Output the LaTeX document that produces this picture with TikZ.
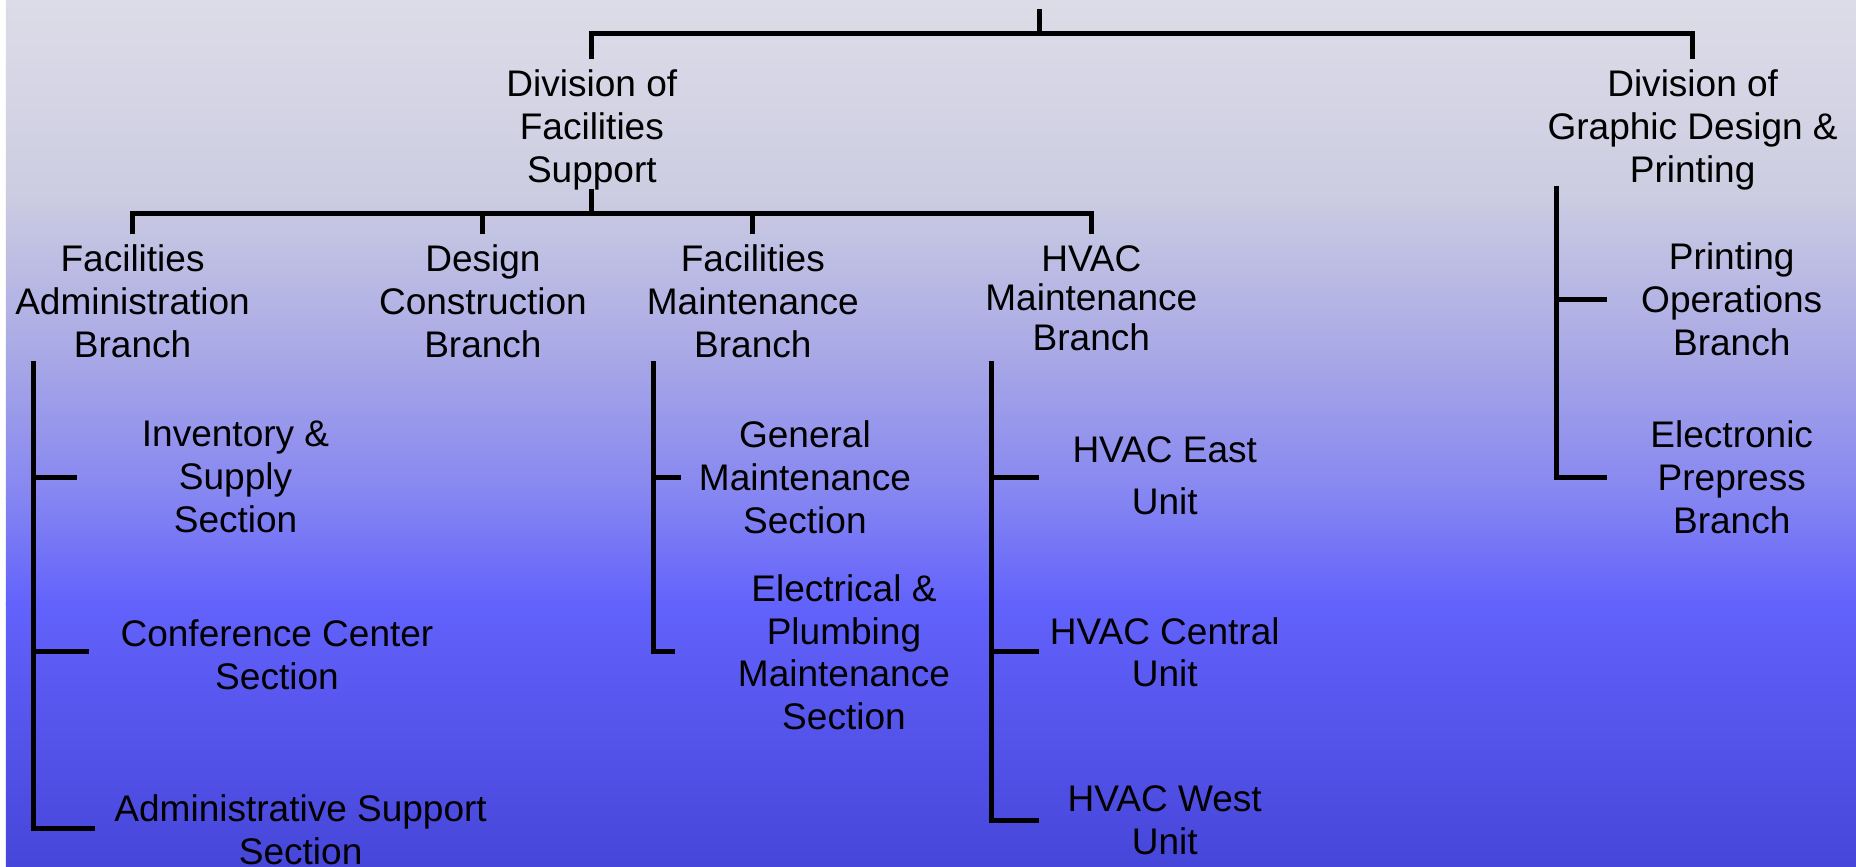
\documentclass[tikz,border=0pt]{standalone}
\usepackage{fontspec}
\setmainfont{Liberation Sans}
\usepackage{tikz}
\usetikzlibrary{calc,positioning}

\definecolor{bgA}{HTML}{DCDCE8}
\definecolor{bgB}{HTML}{CDCDE2}
\definecolor{bgC}{HTML}{A8A8E6}
\definecolor{bgD}{HTML}{8585F2}
\definecolor{bgE}{HTML}{6262FC}
\definecolor{bgF}{HTML}{4646DA}

\newcommand{\orgfont}{\fontsize{17.8}{20.6}\selectfont}

\begin{document}
\begin{tikzpicture}[x=0.02cm, y=-0.02cm,
    every node/.style={align=center, font=\orgfont, inner sep=5pt},
    orgline/.style={line width=2.4pt}]
    \useasboundingbox (0,0) rectangle (1568,732);

    % background
    \fill[white] (0,0) rectangle (1568,732);
    \shade[top color=bgA, bottom color=bgB] (5,0) rectangle (1568,161);
    \shade[top color=bgB, bottom color=bgC] (5,160) rectangle (1568,301);
    \shade[top color=bgC, bottom color=bgD] (5,300) rectangle (1568,421);
    \shade[top color=bgD, bottom color=bgE] (5,420) rectangle (1568,511);
    \shade[top color=bgE, bottom color=bgF] (5,510) rectangle (1568,732);

    % divisions
    \node[anchor=north] (dfs) at (500,50) {Division of\\Facilities\\Support};
    \node[anchor=north] (gdp) at (1430,50) {Division of\\Graphic Design \&\\Printing};

    % branches
    \node[anchor=north] (fab) at (112,198) {Facilities\\Administration\\Branch};
    \node[anchor=north] (dcb) at (408,198) {Design\\Construction\\Branch};
    \node[anchor=north] (fmb) at (636,198) {Facilities\\Maintenance\\Branch};
    \node[anchor=north] (hvb) at (922,198) {HVAC\\[-1.5pt]Maintenance\\[-1.5pt]Branch};
    \node (pob) at (1463,253) {Printing\\Operations\\Branch};
    \node (epb) at (1463,403) {Electronic\\Prepress\\Branch};

    % sections and units
    \node (inv) at (199,403) {Inventory \&\\Supply\\Section};
    \node (conf) at (234,553) {Conference Center\\Section};
    \node (adm) at (254,701) {Administrative Support\\Section};
    \node (gms) at (680,403) {General\\Maintenance\\Section};
    \node (eps) at (713,551) {Electrical \&\\Plumbing\\Maintenance\\Section};
    \node (hve) at (984,402) {HVAC East\\[4.8pt]Unit};
    \node (hvc) at (984,551) {HVAC Central\\Unit};
    \node (hvw) at (984,693) {HVAC West\\Unit};

    % top level
    \coordinate (root) at (878,8);
    \coordinate (hub) at (878,28);
    \draw[orgline] (root) -- (hub);
    \draw[orgline] (dfs.north) |- (hub) -| (gdp.north);

    % facilities support
    \coordinate (fs-hub) at (500,180);
    \draw[orgline, shorten <=-6pt] (dfs.south) -- (fs-hub);
    \draw[orgline] (fab.north) |- (fs-hub) -| (hvb.north);
    \draw[orgline] (dcb.north) -- (dcb.north |- fs-hub);
    \draw[orgline] (fmb.north) -- (fmb.north |- fs-hub);

    % administration branch
    \coordinate (fab-spine) at (28,305);
    \coordinate (inv-tick) at (65,403);
    \coordinate (conf-tick) at (75,550);
    \coordinate (adm-tick) at (80,700);
    \draw[orgline] (fab-spine) |- (adm-tick);
    \draw[orgline] (fab-spine |- inv-tick) -- (inv-tick);
    \draw[orgline] (fab-spine |- conf-tick) -- (conf-tick);

    % maintenance branch
    \coordinate (fmb-spine) at (552,305);
    \coordinate (gms-tick) at (575,403);
    \coordinate (eps-tick) at (570,550);
    \draw[orgline] (fmb-spine) |- (eps-tick);
    \draw[orgline] (fmb-spine |- gms-tick) -- (gms-tick);

    % hvac branch
    \coordinate (hvb-spine) at (838,305);
    \coordinate (hve-tick) at (878,403);
    \coordinate (hvc-tick) at (878,550);
    \coordinate (hvw-tick) at (878,693);
    \draw[orgline] (hvb-spine) |- (hvw-tick);
    \draw[orgline] (hvb-spine |- hve-tick) -- (hve-tick);
    \draw[orgline] (hvb-spine |- hvc-tick) -- (hvc-tick);

    % graphic design
    \coordinate (gdp-spine) at (1315,157);
    \coordinate (pob-tick) at (1358,253);
    \coordinate (epb-tick) at (1358,403);
    \draw[orgline] (gdp-spine) |- (epb-tick);
    \draw[orgline] (gdp-spine |- pob-tick) -- (pob-tick);
\end{tikzpicture}
\end{document}
